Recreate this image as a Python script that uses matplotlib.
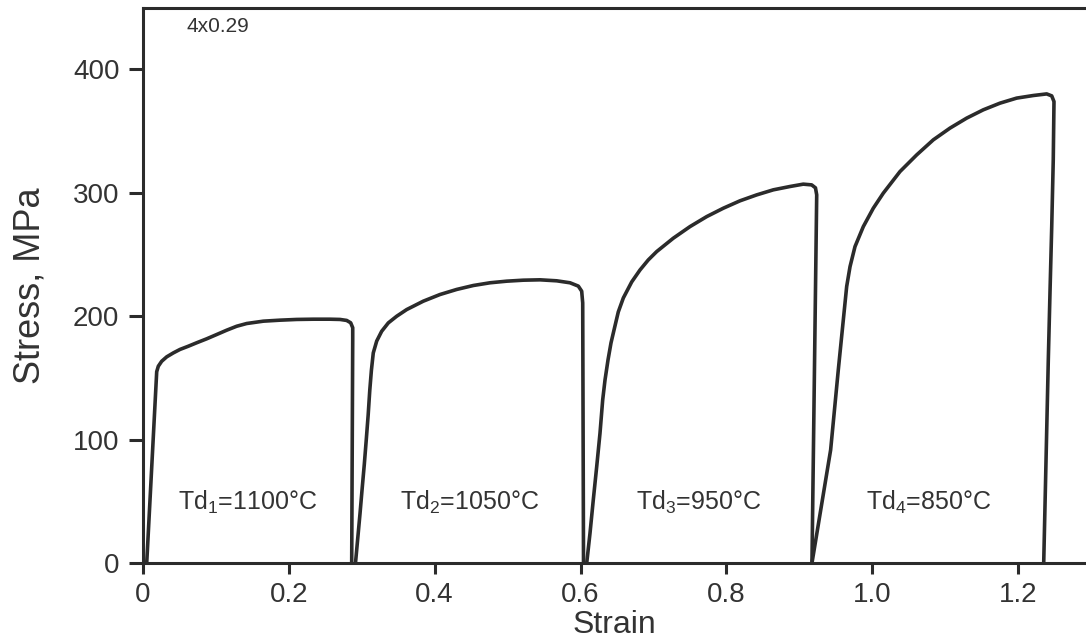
import matplotlib
matplotlib.use("Agg")
import matplotlib.pyplot as plt

plt.rcParams['font.family'] = ['Liberation Sans', 'DejaVu Sans']
plt.rcParams['mathtext.fontset'] = 'custom'
plt.rcParams['mathtext.rm'] = 'Liberation Sans'

# ---- data ----
strain1 = [0.0051, 0.0188, 0.021, 0.0256, 0.0325, 0.0416, 0.0507, 0.0621, 0.0736, 0.0873, 0.1011,
           0.1148, 0.1285, 0.1422, 0.165, 0.1875, 0.2108, 0.2335, 0.2564, 0.2702, 0.2793, 0.2848,
           0.2876, 0.2876, 0.2862]
stress1 = [0, 155, 159.4, 163.4, 167, 170.2, 173, 175.6, 178.4, 181.6, 185.1,
           188.6, 191.8, 194, 195.9, 196.7, 197.3, 197.5, 197.5, 197.3, 196.5, 194.6,
           190.6, 181.1, 0]

strain2 = [0.2914, 0.2945, 0.2976, 0.3005, 0.3035, 0.3062, 0.3088, 0.311, 0.3132, 0.3158, 0.3205,
           0.3273, 0.3364, 0.3479, 0.3616, 0.3844, 0.4073, 0.4302, 0.453, 0.4759, 0.4988, 0.5215,
           0.5444, 0.5673, 0.5856, 0.597, 0.6016, 0.603, 0.6041]
stress2 = [0, 20, 40, 60, 80, 100, 120, 140, 156, 170.2, 179.8,
           187.7, 194.5, 199.9, 205.3, 212.1, 217.5, 221.6, 224.8, 227, 228.3, 229.1,
           229.4, 228.6, 227, 224.3, 220.2, 210.7, 0]

strain3 = [0.6085, 0.613, 0.6175, 0.6222, 0.6267, 0.6304, 0.6336, 0.6377, 0.6418, 0.6466, 0.6518,
           0.6587, 0.6702, 0.6816, 0.6929, 0.7045, 0.7272, 0.7501, 0.773, 0.7958, 0.8187, 0.8416,
           0.8644, 0.8873, 0.9055, 0.917, 0.9222, 0.9239, 0.9174]
stress3 = [0, 24.1, 51.1, 78.1, 105.1, 132.1, 148.3, 164.5, 178.3, 190.4, 203.4,
           214.7, 227.7, 237.4, 245.5, 252.3, 263.1, 272.5, 280.6, 287.4, 293.4, 298.2,
           302.3, 305, 306.9, 306.3, 303.9, 298.2, 0]

strain4 = [0.9174, 0.943, 0.9535, 0.9604, 0.965, 0.9696, 0.9764, 0.9878, 1.0015, 1.0152, 1.0381,
           1.061, 1.0838, 1.1067, 1.1296, 1.1523, 1.1752, 1.1981, 1.2209, 1.2393, 1.2462, 1.2493,
           1.2483, 1.2462, 1.2438, 1.2415, 1.2352]
stress4 = [0, 91.6, 156.4, 197, 224, 240.1, 256.3, 272.5, 287.4, 299.6, 317.1,
           330.6, 342.8, 352.3, 360.4, 367.1, 372.5, 376.6, 378.7, 380, 378.4, 373.8,
           326.6, 272.5, 218.6, 164.5, 0]

curves = [(strain1, stress1), (strain2, stress2), (strain3, stress3), (strain4, stress4)]

labels = [r'Td$_{\mathregular{1}}$=1100°C', r'Td$_{\mathregular{2}}$=1050°C',
          r'Td$_{\mathregular{3}}$=950°C', r'Td$_{\mathregular{4}}$=850°C']
label_x = [0.144, 0.448, 0.762, 1.077]
label_y = [49, 49, 49, 49]

xticks = [0, 0.2, 0.4, 0.6, 0.8, 1.0, 1.2]
xtick_labels = ['0', '0.2', '0.4', '0.6', '0.8', '1.0', '1.2']
yticks = [0, 100, 200, 300, 400]

W, H = 1086, 638
fig = plt.figure(figsize=(W / 100, H / 100), dpi=100)
ax = fig.add_axes([143 / W, 1 - 563 / H, (W - 143) / W, (563 - 7.5) / H])

line_color = '#2b2b2b'
for sx, sy in curves:
    ax.plot(sx, sy, color=line_color, lw=2.6, solid_joinstyle='round', solid_capstyle='round')

for t, x, y in zip(labels, label_x, label_y):
    ax.text(x, y, t, ha='center', va='center', fontsize=18, color='#333333')

ax.text(0.046, 0.965, '4x0.29', transform=ax.transAxes, ha='left', va='center', fontsize=15, color='#333333')

ax.set_xlim(0, 1.2932)
ax.set_ylim(0, 450)
ax.set_xticks(xticks)
ax.set_xticklabels(xtick_labels)
ax.set_yticks(yticks)

for s in ['left', 'top', 'bottom']:
    ax.spines[s].set_linewidth(2.2)
    ax.spines[s].set_color('#2b2b2b')
ax.spines['right'].set_visible(False)

ax.tick_params(axis='both', width=2.2, color='#2b2b2b', labelsize=20, labelcolor='#333333', direction='out')
ax.tick_params(axis='y', length=10, pad=7)
ax.tick_params(axis='x', length=8, pad=6)

ax.set_xlabel('Strain', fontsize=23, color='#333333', labelpad=1)
ax.set_ylabel('Stress, MPa', fontsize=26, color='#333333', labelpad=18)

fig.savefig('out.png', dpi=100)
